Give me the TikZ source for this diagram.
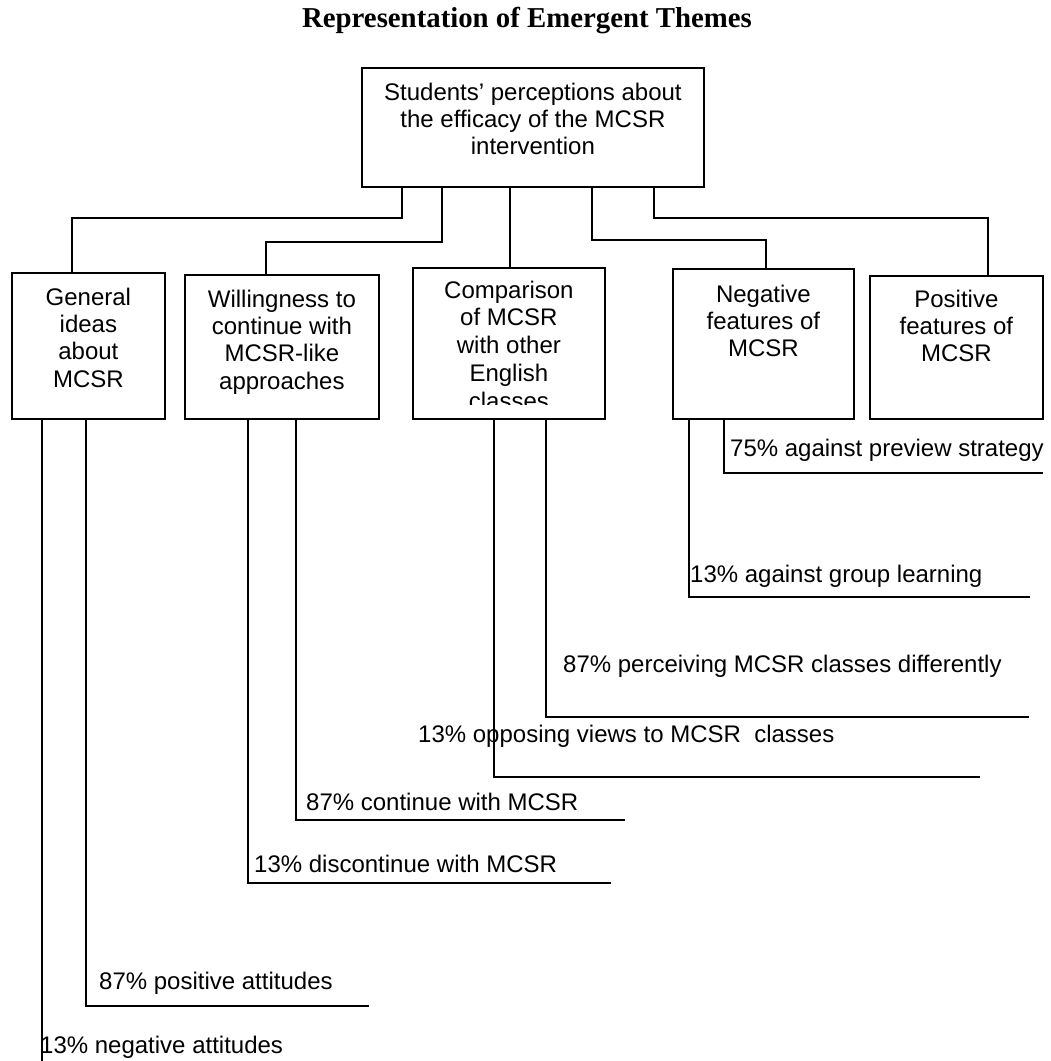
\documentclass[tikz,border=0pt]{standalone}
\usepackage{fontspec}
\setmainfont{Liberation Sans}
\newfontfamily\titlefont{Liberation Serif}
\begin{document}
\begin{tikzpicture}[x=1pt,y=-1pt,
  box/.style={draw, line width=1.8pt, inner sep=0pt, anchor=north west},
  boxtext/.style={anchor=north, inner sep=0pt, align=center, font=\fontsize{24}{27.4}\selectfont},
  lbl/.style={anchor=base west, inner sep=0pt, font=\fontsize{24}{27.4}\selectfont},
  conn/.style={line width=1.7pt},
  sub/.style={line width=1.5pt}]
\useasboundingbox (0,0) rectangle (1051,1061);

% title
\node[anchor=base, inner sep=0pt, font=\titlefont\bfseries\fontsize{28.8}{32}\selectfont] (title) at (527,27) {Representation of Emergent Themes};

% boxes
\node[box, minimum width=342pt, minimum height=119pt] (top) at (361,67) {};
\node[box, minimum width=153pt, minimum height=146pt] (gen) at (11,272) {};
\node[box, minimum width=194pt, minimum height=144pt] (will) at (184,274) {};
\node[box, minimum width=192pt, minimum height=151pt] (comp) at (412,267) {};
\node[box, minimum width=181pt, minimum height=150pt] (neg) at (672,268) {};
\node[box, minimum width=173pt, minimum height=143pt] (pos) at (869,275) {};

% box texts
\node[boxtext] (topt) at ([yshift=-15.5pt]top.north) {Students’ perceptions about\\the efficacy of the MCSR\\intervention};
\node[boxtext] (gent) at ([yshift=-15.5pt]gen.north) {General\\ideas\\about\\MCSR};
\node[boxtext] (willt) at ([yshift=-15.5pt]will.north) {Willingness to\\continue with\\MCSR-like\\approaches};
\begin{scope}
\clip (412,267) rectangle (604,404);
\node[boxtext, font=\fontsize{24}{27.8}\selectfont] (compt) at ([yshift=-13.5pt]comp.north) {Comparison\\of MCSR\\with other\\English\\classes};
\end{scope}
\node[boxtext] (negt) at ([yshift=-16.5pt]neg.north) {Negative\\features of\\MCSR};
\node[boxtext] (post) at ([yshift=-14.5pt]pos.north) {Positive\\features of\\MCSR};

% connectors from the top box
\draw[conn] (402,0 |- top.south) -- (402,218) -| (72,0 |- gen.north);
\draw[conn] (442,0 |- top.south) -- (442,242) -| (266,0 |- will.north);
\draw[conn] (510,0 |- top.south) -- (510,0 |- comp.north);
\draw[conn] (592,0 |- top.south) -- (592,240) -| (766,0 |- neg.north);
\draw[conn] (654,0 |- top.south) -- (654,218) -| (988,0 |- pos.north);

% branch ends
\coordinate (eNeg) at (42,1061);
\coordinate (ePos) at (369,1006);
\coordinate (eDis) at (611,883);
\coordinate (eCon) at (625,820);
\coordinate (eOpp) at (980,777);
\coordinate (ePer) at (1029,717);
\coordinate (eGrp) at (1030,597);
\coordinate (ePrev) at (1043,473);

\draw[sub] (42,0 |- gen.south) -- (eNeg);
\draw[sub] (86,0 |- gen.south) |- (ePos);
\draw[sub] (248,0 |- will.south) |- (eDis);
\draw[sub] (296,0 |- will.south) |- (eCon);
\draw[sub] (494,0 |- comp.south) |- (eOpp);
\draw[sub] (546,0 |- comp.south) |- (ePer);
\draw[sub] (689,0 |- neg.south) |- (eGrp);
\draw[sub] (724,0 |- neg.south) |- (ePrev);

% labels
\node[lbl] (lNeg) at (40,1053) {13\% negative attitudes};
\node[lbl] (lPos) at (99,989) {87\% positive attitudes};
\node[lbl] (lDis) at (254,872) {13\% discontinue with MCSR};
\node[lbl] (lCon) at (306,810) {87\% continue with MCSR};
\node[lbl] (lOpp) at (418,742) {13\% opposing views to MCSR\ \ classes};
\node[lbl] (lPer) at (563,672) {87\% perceiving MCSR classes differently};
\node[lbl] (lGrp) at (690,582) {13\% against group learning};
\node[lbl] (lPrev) at (730,456) {75\% against preview strategy};
\end{tikzpicture}
\end{document}
